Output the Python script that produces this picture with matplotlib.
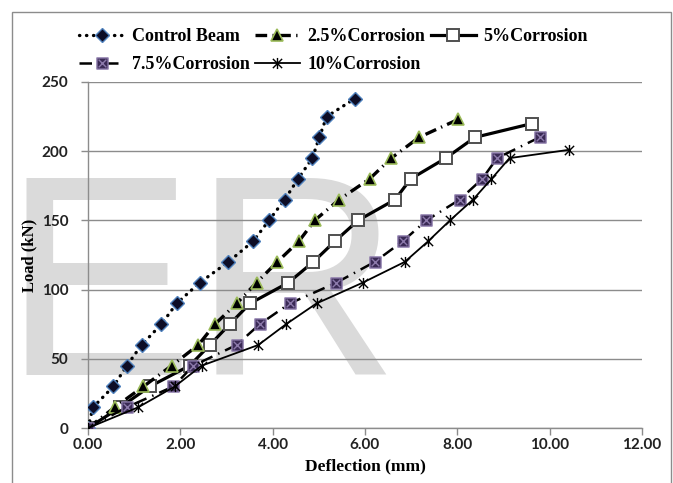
import matplotlib
matplotlib.use("Agg")
import matplotlib.pyplot as plt
from matplotlib.path import Path
from matplotlib.patches import Rectangle

# ---- data ----
control_x = [0, 0.11, 0.55, 0.84, 1.16, 1.59, 1.92, 2.42, 3.04, 3.58, 3.92, 4.26, 4.55, 4.86, 5.01, 5.17, 5.78]
control_y = [0, 15, 30, 45, 60, 75, 90, 105, 120, 135, 150, 165, 180, 195, 210, 225, 238]

c25_x = [0, 0.58, 1.20, 1.81, 2.39, 2.75, 3.22, 3.65, 4.10, 4.57, 4.91, 5.44, 6.10, 6.57, 7.17, 8.02]
c25_y = [0, 15, 30, 45, 60, 75, 90, 105, 120, 135, 150, 165, 180, 195, 210, 223]

c5_x = [0, 0.70, 1.34, 2.20, 2.64, 3.07, 3.51, 4.34, 4.88, 5.35, 5.85, 6.65, 6.99, 7.75, 8.38, 9.62]
c5_y = [0, 15, 30, 45, 60, 75, 90, 105, 120, 135, 150, 165, 180, 195, 210, 220]

c75_x = [0, 0.84, 1.85, 2.28, 3.22, 3.72, 4.37, 5.38, 6.21, 6.82, 7.33, 8.05, 8.54, 8.86, 9.78]
c75_y = [0, 15, 30, 45, 60, 75, 90, 105, 120, 135, 150, 165, 180, 195, 210]

c10_x = [0, 1.09, 1.88, 2.46, 3.69, 4.29, 4.95, 5.95, 6.86, 7.37, 7.84, 8.34, 8.74, 9.13, 10.42]
c10_y = [0, 15, 30, 45, 60, 75, 90, 105, 120, 135, 150, 165, 180, 195, 201]

labels = ["Control Beam", "2.5%Corrosion", "5%Corrosion", "7.5%Corrosion", "10%Corrosion"]
x_ticks = [0, 2, 4, 6, 8, 10, 12]
y_ticks = [0, 50, 100, 150, 200, 250]

# ---- custom markers ----
sqx = Path([(-1, -1), (1, -1), (1, 1), (-1, 1), (-1, -1),
            (-0.7, -0.7), (0.7, 0.7), (-0.7, 0.7), (0.7, -0.7)],
           [Path.MOVETO, Path.LINETO, Path.LINETO, Path.LINETO, Path.CLOSEPOLY,
            Path.MOVETO, Path.LINETO, Path.MOVETO, Path.LINETO])
star = Path([(-1, -1), (1, 1), (-1, 1), (1, -1), (0, -1.2), (0, 1.2)],
            [Path.MOVETO, Path.LINETO, Path.MOVETO, Path.LINETO, Path.MOVETO, Path.LINETO])

fig = plt.figure(figsize=(6.73, 4.83), dpi=100)
fig.patch.set_facecolor("white")

# watermark
fig.text(2.4 / 673, 1 - 375 / 483, "ER", fontsize=206, family="Liberation Sans",
         color="#dadada", va="baseline", ha="left", zorder=-5)

# outer border
fig.patches.append(Rectangle((12 / 673, -0.02), (671 - 12) / 673, 1 - 12 / 483 + 0.02,
                             transform=fig.transFigure, fill=False,
                             edgecolor="#8c8c8c", linewidth=1.0))

ax = fig.add_axes([88 / 673, 1 - 428 / 483, (642 - 88) / 673, (428 - 82) / 483])
ax.patch.set_alpha(0)

h0, = ax.plot(control_x, control_y, color="black", lw=2.4, linestyle=(0, (0.1, 2.0)),
              dash_capstyle="round", marker="D", markersize=7,
              markerfacecolor="#0d0d26", markeredgecolor="#4f81bd", markeredgewidth=1.0, zorder=5)
h1, = ax.plot(c25_x, c25_y, color="black", lw=2.4, linestyle=(0, (3.5, 1.6, 0.4, 1.6)),
              marker="^", markersize=9, markerfacecolor="black",
              markeredgecolor="#9bbb59", markeredgewidth=1.2, zorder=5)
h2, = ax.plot(c5_x, c5_y, color="black", lw=2.3, linestyle="-",
              marker="s", markersize=9, markerfacecolor="white",
              markeredgecolor="#505050", markeredgewidth=1.4, zorder=4)
h3, = ax.plot(c75_x, c75_y, color="black", lw=1.8, linestyle=(0, (5, 2.5, 0.6, 2.5)),
              marker=sqx, markersize=8, markerfacecolor="#3a2a55",
              markeredgecolor="#8c7aab", markeredgewidth=1.0, zorder=5)
h4, = ax.plot(c10_x, c10_y, color="black", lw=1.3, linestyle="-",
              marker=star, markersize=8, markerfacecolor="none",
              markeredgecolor="black", markeredgewidth=1.0, zorder=5)

ax.set_xlim(0, 12)
ax.set_ylim(0, 250)
ax.set_xticks(x_ticks)
ax.set_yticks(y_ticks)
ax.set_xticklabels([f"{v:.2f}" for v in x_ticks])
ax.set_yticklabels([str(v) for v in y_ticks])
for lab in ax.get_xticklabels() + ax.get_yticklabels():
    lab.set_fontfamily("Lato")
    lab.set_fontweight("bold")
    lab.set_fontsize(11)
    lab.set_color("#222222")

ax.yaxis.grid(True, color="#8c8c8c", lw=1.0)
ax.set_axisbelow(True)
for s in ["top", "right"]:
    ax.spines[s].set_visible(False)
for s in ["left", "bottom"]:
    ax.spines[s].set_color("#8c8c8c")
    ax.spines[s].set_linewidth(1.0)
ax.tick_params(axis="both", direction="out", length=5, color="#8c8c8c", width=1.0)
ax.tick_params(axis="y", pad=9)
ax.tick_params(axis="x", pad=2)

ax.set_xlabel("Deflection (mm)", family="Liberation Serif", fontweight="bold", fontsize=12.5, labelpad=5)
ax.set_ylabel("Load (kN)", family="Liberation Serif", fontweight="bold", fontsize=12, labelpad=3)

handles = [h0, h3, h1, h4, h2]
labs = [labels[0], labels[3], labels[1], labels[4], labels[2]]
leg = fig.legend(handles, labs, ncol=3, loc="upper left",
                 bbox_to_anchor=(72 / 673, 1 - 21 / 483),
                 frameon=False, handlelength=2.5, handletextpad=0.4, columnspacing=0.3,
                 labelspacing=0.6, borderaxespad=0,
                 prop={"family": "Liberation Serif", "weight": "bold", "size": 13})

fig.savefig("out.png", dpi=100, facecolor="white")
